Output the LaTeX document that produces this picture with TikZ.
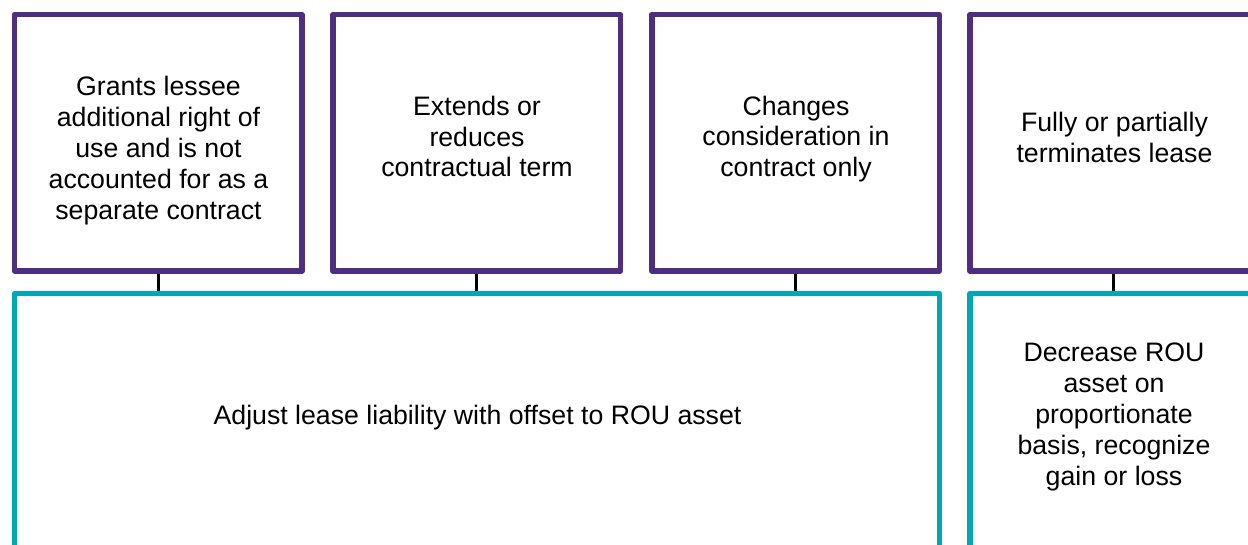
\documentclass[tikz,border=0pt]{standalone}
\usepackage{fontspec}
\setmainfont{Liberation Sans}
\definecolor{gtpurple}{RGB}{79,45,127}
\definecolor{gtteal}{RGB}{0,167,181}
\begin{document}
\begin{tikzpicture}[x=1pt,y=-1pt,
  topbox/.style={draw=gtpurple, line width=5.5pt, line join=round, fill=none,
    minimum width=287.5pt, minimum height=256.5pt, inner sep=0pt},
  botbox/.style={draw=gtteal, line width=5.5pt, line join=round,
    minimum height=270pt, inner sep=0pt},
  txt/.style={align=center, inner sep=0pt, font=\fontsize{26.7}{30.8}\selectfont},
  link/.style={draw=black, line width=3.4pt}]
\useasboundingbox (0,0) rectangle (1248,544);
\begin{scope}
\clip (0,0) rectangle (1248,544);
\node[topbox] (b1) at (158.25,142.75) {};
\node[topbox] (b2) at (476.75,142.75) {};
\node[topbox] (b3) at (795.5,142.75) {};
\node[topbox] (b4) at (1113.75,142.75) {};
\node[botbox, minimum width=925pt] (c1) at (477,428.5) {};
\node[botbox, minimum width=287.5pt] (c2) at (1113.75,428.5) {};
\draw[link] (b1.south) -- (b1.south |- c1.north);
\draw[link] (b2.south) -- (b2.south |- c1.north);
\draw[link] (b3.south) -- (b3.south |- c1.north);
\draw[link] (b4.south) -- (b4.south |- c2.north);
\end{scope}
\node[txt] (t1) at (158.5,150.5) {Grants lessee\\additional right of\\use and is not\\accounted for as a\\separate contract};
\node[txt] (t2) at (477,136.5) {Extends or\\reduces\\contractual term};
\node[txt] (t3) at (796,139) {Changes\\consideration in\\contract only};
\node[txt] (t4) at (1114.5,137.5) {Fully or partially\\terminates lease};
\node[txt] (t5) at (477.5,417.5) {Adjust lease liability with offset to ROU asset};
\node[txt] (t6) at (1114,417) {Decrease ROU\\asset on\\proportionate\\basis, recognize\\gain or loss};
\end{tikzpicture}
\end{document}
